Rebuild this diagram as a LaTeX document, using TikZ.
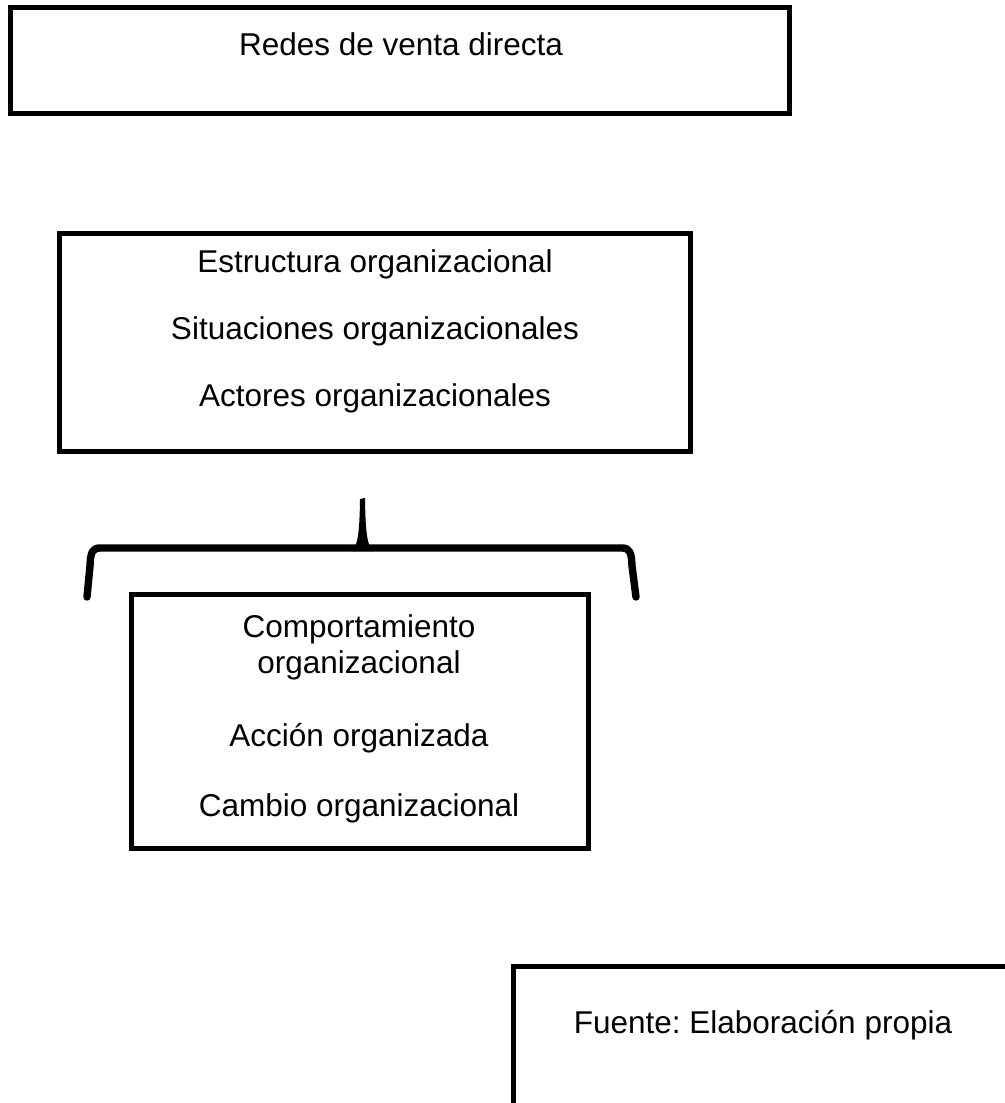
\documentclass[tikz,border=0pt]{standalone}
\usepackage{fontspec}
\setmainfont{Liberation Sans}
\usetikzlibrary{fit}
\frenchspacing
\begin{document}
\begin{tikzpicture}[x=0.5pt,y=-0.5pt,
  frame/.style={draw=black, line width=2.5pt, line join=miter, inner sep=0pt},
  txt/.style={font=\fontsize{15.75pt}{18pt}\selectfont, anchor=base, inner sep=0pt},
  bracestroke/.style={line width=3.7pt, line cap=round, line join=round}]
\useasboundingbox (0,0) rectangle (1005,1103);
\clip (0,0) rectangle (1005,1103);
\fill[white] (0,0) rectangle (1005,1103);

% top box
\node[frame, fit={(10,7) (789,113)}] (redes) {};
\node[txt] (redesT) at (401,55) {Redes de venta directa};

% organizational structure box
\node[frame, fit={(59,233) (690,451)}] (estr) {};
\node[txt] (estr1) at (375,272) {Estructura organizacional};
\node[txt] (estr2) at (375,339) {Situaciones organizacionales};
\node[txt] (estr3) at (375,406) {Actores organizacionales};

% curly brace
\draw[bracestroke] (87,597) -- (90,566) .. controls (90.5,553) and (92,548) .. (100,548)
  -- (622,548) .. controls (630,548) and (631.5,553) .. (632,566) -- (636,597);
\fill (351,551) .. controls (357,547) and (359.5,538) .. (360,499)
  -- (365,498) .. controls (365.5,538) and (368,547) .. (374,551) -- cycle;

% behaviour box
\node[frame, fit={(131,594) (588,848)}] (comp) {};
\node[txt] (comp1) at (359,637) {Comportamiento};
\node[txt] (comp2) at (359,673) {organizacional};
\node[txt] (comp3) at (359,746) {Acción organizada};
\node[txt] (comp4) at (359,816) {Cambio organizacional};

% source box
\node[frame, fit={(513,966) (1040,1140)}] (fuente) {};
\node[txt] (fuenteT) at (763,1033) {Fuente: Elaboración propia};
\end{tikzpicture}
\end{document}
